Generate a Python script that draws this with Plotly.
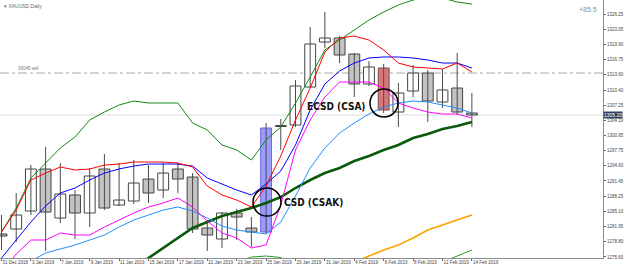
import plotly.graph_objects as go

# ---------------- data ----------------
dates = ["31 Dec 2018", "2 Jan 2019", "3 Jan 2019", "4 Jan 2019", "7 Jan 2019", "8 Jan 2019",
         "9 Jan 2019", "10 Jan 2019", "11 Jan 2019", "14 Jan 2019", "15 Jan 2019", "16 Jan 2019",
         "17 Jan 2019", "18 Jan 2019", "21 Jan 2019", "22 Jan 2019", "23 Jan 2019", "24 Jan 2019",
         "25 Jan 2019", "28 Jan 2019", "29 Jan 2019", "30 Jan 2019", "31 Jan 2019", "1 Feb 2019",
         "4 Feb 2019", "5 Feb 2019", "6 Feb 2019", "7 Feb 2019", "8 Feb 2019", "11 Feb 2019",
         "12 Feb 2019", "13 Feb 2019", "14 Feb 2019"]

open_ = [1280.39, 1281.43, 1285.18, 1293.94, 1283.72, 1288.52, 1284.77, 1293.94, 1286.43, 1287.27,
         1291.85, 1289.56, 1293.94, 1292.27, 1281.64, 1279.35, 1284.77, 1281.64, 1280.81, 1302.80,
         1303.11, 1311.03, 1320.41, 1321.25, 1317.91, 1311.66, 1314.99, 1305.82, 1310.20, 1313.95,
         1307.91, 1310.82, 1305.61]
high = [1284.35, 1288.94, 1294.77, 1298.52, 1295.19, 1289.56, 1294.15, 1297.07, 1295.19, 1295.81,
        1294.77, 1295.19, 1295.19, 1293.10, 1283.31, 1284.97, 1285.60, 1283.93, 1303.53, 1304.36,
        1312.49, 1323.54, 1326.67, 1321.66, 1318.12, 1316.45, 1315.83, 1311.87, 1315.62, 1314.58,
        1314.78, 1318.12, 1309.78]
low = [1277.05, 1278.72, 1284.35, 1276.85, 1282.68, 1279.35, 1281.85, 1285.39, 1286.23, 1286.64,
       1286.85, 1287.89, 1288.94, 1280.60, 1276.85, 1277.47, 1279.14, 1277.68, 1280.39, 1297.90,
       1302.69, 1310.82, 1319.16, 1316.03, 1308.95, 1311.24, 1305.61, 1302.69, 1308.95, 1303.74,
       1306.65, 1305.20, 1302.69]
close = [1279.97, 1284.35, 1293.94, 1284.97, 1288.73, 1284.77, 1292.48, 1285.81, 1287.48, 1291.02,
         1288.94, 1293.10, 1291.85, 1281.43, 1280.18, 1284.77, 1283.93, 1280.81, 1302.49, 1303.00,
         1311.24, 1320.00, 1321.25, 1317.70, 1311.66, 1315.20, 1306.24, 1309.78, 1313.95, 1308.11,
         1310.41, 1305.82, 1305.20]

red_line = [1280.81, 1285.39, 1291.65, 1293.10, 1294.36, 1293.73, 1293.94, 1294.77, 1294.98, 1295.40,
            1295.40, 1295.40, 1295.19, 1294.36, 1290.39, 1288.52, 1287.48, 1286.02, 1290.39, 1296.65,
            1304.15, 1310.82, 1318.33, 1321.25, 1321.66, 1320.83, 1318.75, 1316.03, 1315.20, 1314.99,
            1314.78, 1316.03, 1314.16]
blue_line = [1275.39, 1279.14, 1282.89, 1286.23, 1288.94, 1289.98, 1291.65, 1293.10, 1293.94, 1294.56,
             1294.98, 1294.98, 1294.98, 1294.56, 1292.06, 1290.81, 1289.56, 1288.52, 1290.81, 1293.52,
             1298.94, 1306.24, 1311.66, 1314.37, 1316.03, 1317.08, 1317.29, 1317.29, 1317.08, 1316.66,
             1316.03, 1316.03, 1314.99]
magenta_line = [1272.46, 1276.22, 1279.14, 1279.14, 1280.60, 1280.18, 1280.18, 1281.85, 1283.31, 1284.77,
                1286.02, 1286.85, 1287.89, 1286.02, 1283.10, 1280.60, 1279.56, 1277.47, 1278.10, 1286.43,
                1297.90, 1304.15, 1308.95, 1312.07, 1312.07, 1312.07, 1310.82, 1307.70, 1306.65, 1305.82,
                1305.40, 1305.40, 1304.57]
skyblue_line = [1270.80, 1272.88, 1274.76, 1276.43, 1277.26, 1278.10, 1279.14, 1280.18, 1281.85, 1283.31,
                1284.35, 1285.39, 1286.02, 1285.18, 1283.72, 1282.06, 1281.22, 1280.81, 1280.39, 1282.89,
                1288.31, 1294.15, 1298.32, 1301.44, 1303.53, 1305.40, 1306.86, 1307.70, 1308.11, 1307.91,
                1307.28, 1306.65, 1305.61]
bb_upper = [1280.81, 1285.81, 1292.06, 1295.19, 1298.32, 1300.61, 1304.15, 1305.82, 1307.28, 1308.11,
            1307.70, 1307.70, 1307.70, 1303.53, 1302.07, 1298.94, 1297.90, 1295.81, 1299.98, 1302.69,
            1307.70, 1313.12, 1318.75, 1320.83, 1322.91, 1325.00, 1326.67, 1328.13, 1329.17, 1329.79,
            1329.59, 1328.75, 1328.33]
bb_lower = [None] * 15 + [1273.30, 1274.55, 1275.59, 1275.80, 1275.49, 1273.72] + [None] * 8 + \
           [1272.88, 1274.55, 1275.80, 1277.05]
slow_ma = [None] * 9 + [1273.30, 1275.39, 1277.47, 1279.56, 1281.64, 1282.89, 1284.14, 1284.97, 1285.81,
                        1286.85, 1288.10, 1289.98, 1291.65, 1293.10, 1294.15, 1295.61, 1296.65, 1297.90,
                        1298.94, 1300.40, 1301.23, 1302.28, 1302.90, 1303.74]
orange_line = [None] * 23 + [1273.30, 1274.55, 1275.80, 1277.05, 1278.10, 1279.56, 1281.22, 1282.26,
                             1283.31, 1284.35]

y_ticks = [1326.25, 1323.05, 1319.90, 1316.75, 1313.60, 1310.40, 1307.25, 1304.10, 1300.95,
           1297.75, 1294.60, 1291.45, 1288.25, 1285.10, 1281.95, 1278.80, 1275.60]

sell_level = 1313.95
last_price = 1305.20
csd_point = (18.06, 1287.06)
ecsd_point = (26.02, 1307.70)

# ---------------- figure ----------------
idx = list(range(len(dates)))
FONT = "Liberation Sans"

fig = go.Figure()

wx, wy = [], []
for i, (h, l) in enumerate(zip(high, low)):
    wx += [i, i, None]
    wy += [l, h, None]
fig.add_trace(go.Scatter(x=wx, y=wy, mode="lines", line=dict(color="#4a4a4a", width=1),
                         hoverinfo="skip", showlegend=False))

special_fill = {18: "#9a9aff", 26: "#d87878"}
special_edge = {18: "#6a6ad8", 26: "#7a4a4a"}
fills, edges = [], []
for i, (o, c) in enumerate(zip(open_, close)):
    fills.append(special_fill.get(i, "#ffffff" if c >= o else "#c3c3c3"))
    edges.append(special_edge.get(i, "#444444"))
base = [min(o, c) for o, c in zip(open_, close)]
body = [max(abs(c - o), 0.08) for o, c in zip(open_, close)]
fig.add_trace(go.Bar(x=idx, y=body, base=base, width=0.74,
                     marker=dict(color=fills, line=dict(color=edges, width=1)),
                     hoverinfo="skip", showlegend=False))

def add_line(vals, color, width):
    fig.add_trace(go.Scatter(x=idx, y=vals, mode="lines", line=dict(color=color, width=width),
                             connectgaps=False, hoverinfo="skip", showlegend=False))

add_line(bb_upper, "#138a13", 1)
add_line(bb_lower, "#2a9a2a", 1)
add_line(orange_line, "#ffa000", 1.6)
add_line(slow_ma, "#0a5a0a", 2.6)
add_line(skyblue_line, "#1e90ff", 1)
add_line(magenta_line, "#ff00ff", 1)
add_line(blue_line, "#0000ff", 1)
add_line(red_line, "#ff0000", 1)

shapes = [
    dict(type="line", xref="paper", x0=0, x1=1, yref="y", y0=last_price, y1=last_price,
         line=dict(color="#dcdcdc", width=1), layer="below"),
    dict(type="line", xref="paper", x0=0, x1=1, yref="y", y0=sell_level, y1=sell_level,
         line=dict(color="#a8a8a8", width=1, dash="dashdot"), layer="below"),
]
for cx, cy in (csd_point, ecsd_point):
    shapes.append(dict(type="circle", xref="x", yref="y", xsizemode="pixel", ysizemode="pixel",
                       xanchor=cx, yanchor=cy, x0=-14, x1=14, y0=-14, y1=14,
                       line=dict(color="#000000", width=1.5)))

annotations = [
    dict(text="▾ XAUUSD,Daily", xref="paper", yref="paper", x=0.004, y=0.995, xanchor="left",
         yanchor="top", showarrow=False, font=dict(family=FONT, size=5, color="#666666")),
    dict(text="+85.5", xref="paper", yref="paper", x=0.994, y=0.962, xanchor="right",
         yanchor="middle", showarrow=False, font=dict(family=FONT, size=7, color="#7f93ad")),
    dict(text="30045 sell", xref="paper", yref="y", x=0.027, y=sell_level, xanchor="left",
         yanchor="bottom", showarrow=False, font=dict(family=FONT, size=4.5, color="#777777")),
    dict(text="<b>CSD (CSAK)</b>", xref="x", yref="y", x=19.1, y=csd_point[1] - 0.05,
         xanchor="left", yanchor="middle", showarrow=False,
         font=dict(family="DejaVu Sans Condensed", size=10, color="#111111")),
    dict(text="<b>ECSD (CSA)</b>", xref="x", yref="y", x=24.86, y=1307.07, xanchor="right",
         yanchor="middle", showarrow=False,
         font=dict(family="DejaVu Sans Condensed", size=10, color="#111111")),
    dict(text="%.2f" % last_price, xref="paper", yref="y", x=1.0, y=last_price, xanchor="left",
         yanchor="middle", showarrow=False, bgcolor="#33445c", borderpad=0,
         font=dict(family=FONT, size=5, color="#ffffff")),
]

fig.update_layout(
    width=625, height=268,
    margin=dict(l=0, r=22, t=0, b=10, pad=0),
    paper_bgcolor="#ffffff", plot_bgcolor="#ffffff",
    showlegend=False, barmode="overlay",
    shapes=shapes, annotations=annotations,
    xaxis=dict(range=[-0.102, 40.92], tickvals=idx[::2], ticktext=dates[::2],
               ticklabelposition="outside right", tickangle=0, ticks="outside", ticklen=2,
               tickcolor="#666666", showline=True, linecolor="#8c8c8c", linewidth=1,
               showgrid=False, zeroline=False,
               tickfont=dict(family=FONT, size=4.5, color="#444444")),
    yaxis=dict(side="right", range=[1275.39, 1329.17], tickvals=y_ticks,
               ticktext=["%.2f" % v for v in y_ticks], ticks="outside", ticklen=2,
               tickcolor="#666666", showline=True, mirror=True, linecolor="#8c8c8c", linewidth=1,
               showgrid=False, zeroline=False,
               tickfont=dict(family=FONT, size=4.5, color="#444444")),
)

fig.write_html("out.html")
